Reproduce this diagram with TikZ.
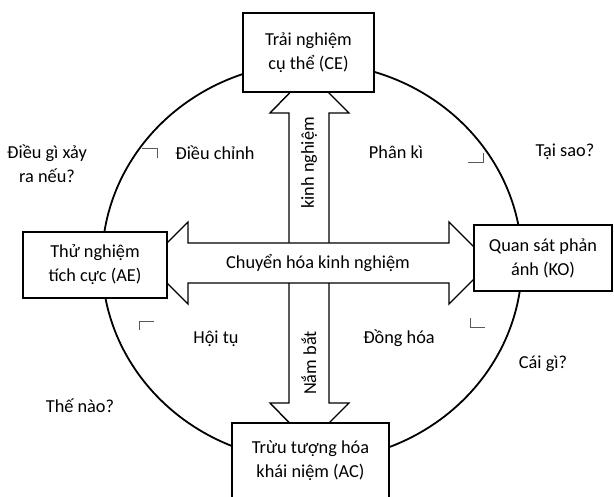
\documentclass[tikz,border=0pt]{standalone}
\usepackage{fontspec}
\setmainfont{Carlito}
\begin{document}
\begin{tikzpicture}[x=1pt,y=-1pt,font=\fontsize{18.3}{24}\selectfont,
  stagebox/.style={draw,line width=1.6pt,fill=white,align=center,inner sep=0pt},
  note/.style={align=center,inner sep=0pt},
  corner/.style={draw=black!65,line width=0.8pt}]
  \useasboundingbox (0,0) rectangle (614,497);
  \clip (0,0) rectangle (614,497);
  \draw[line width=1.8pt] (312,262) ellipse [x radius=210, y radius=199];
  \draw[line width=1.4pt,fill=white] (309,73) -- (349,113) -- (329,113) -- (329,403)
    -- (349,403) -- (309,443) -- (270,403) -- (289,403) -- (289,113) -- (270,113) -- cycle;
  \draw[line width=1.4pt,fill=white] (147,263) -- (188,222) -- (188,243) -- (449,243)
    -- (449,222) -- (490,263) -- (449,304) -- (449,283) -- (188,283) -- (188,304) -- cycle;
  \node[stagebox,minimum width=131,minimum height=79] (ce) at (308.5,52.5) {Trải nghiệm\\cụ thể (CE)};
  \node[stagebox,minimum width=144,minimum height=66] (ae) at (95,265) {Thử nghiệm\\tích cực (AE)};
  \node[stagebox,minimum width=138,minimum height=66] (ko) at (543,258) {Quan sát phản\\ánh (KO)};
  \node[stagebox,minimum width=157,minimum height=76] (ac) at (310.5,461) {Trừu tượng hóa\\khái niệm (AC)};
  \node[rotate=90] (kinh) at (309,163) {kinh nghiệm};
  \node[rotate=90] (nam) at (309,363) {Nắm bắt};
  \node (chuyen) at (318,263) {Chuyển hóa kinh nghiệm};
  \node[note] (dieuchinh) at (215,153) {Điều chỉnh};
  \node[note] (phanki) at (396,152) {Phân kì};
  \node[note] (hoitu) at (216,339) {Hội tụ};
  \node[note] (donghoa) at (399,338) {Đồng hóa};
  \node[note] (neu) at (47,164) {Điều gì xảy\\ra nếu?};
  \node[note] (taisao) at (565,152) {Tại sao?};
  \node[note] (caigi) at (543,364) {Cái gì?};
  \node[note] (thenao) at (80,406) {Thế nào?};
  \draw[corner] (142,148) -- (157,148) -- (157,158);
  \draw[corner] (468,162) -- (483,162) -- (483,153);
  \draw[corner] (139,330) -- (139,321) -- (154,321);
  \draw[corner] (470,318) -- (470,327) -- (485,327);
\end{tikzpicture}
\end{document}
